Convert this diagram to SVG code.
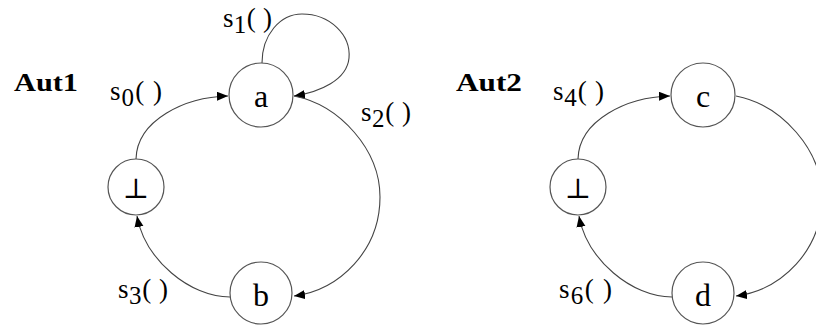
<svg xmlns="http://www.w3.org/2000/svg" width="816" height="329" viewBox="0 0 816 329">
<style>
.node{fill:#fff;stroke:#555;stroke-width:1.2}
.nl{font-family:'Liberation Serif','Times New Roman','DejaVu Serif',serif;font-size:32px;fill:#000;text-anchor:middle}
.bot{font-family:'DejaVu Serif','DejaVu Sans',serif;font-size:28px;fill:#000;text-anchor:middle}
.edge{fill:none;stroke:#444;stroke-width:1.1;marker-end:url(#arr)}
.lbl{font-family:'Liberation Serif','Times New Roman','DejaVu Serif',serif;font-size:27px;fill:#000}
.title{font-family:'Liberation Serif','Times New Roman','DejaVu Serif',serif;font-size:25px;font-weight:bold;fill:#000}
</style>
<defs>
<marker id="arr" markerUnits="userSpaceOnUse" markerWidth="12" markerHeight="10" refX="11" refY="4.5" orient="auto">
<path d="M0,0 L11,4.5 L0,9 z" fill="#000"/>
</marker>
</defs>
<rect width="816" height="329" fill="#fff"/>
<g id="connectors">
<path class="edge" d="M136,159 C137,120 185,97 228,96"/>
<path class="edge" d="M262,63 C262,35 280,14 302,14 C330,14 351,35 349,58 C347,80 320,92 294,96"/>
<path class="edge" d="M294,96 C340,105 380,150 380,197 C380,250 340,290 294,296"/>
<path class="edge" d="M230,297 C190,297 145,260 137,216"/>
<path class="edge" d="M578,159 C579,120 627,97 670,96"/>
<path class="edge" d="M736,96 C782,105 822,150 822,197 C822,250 782,290 736,296"/>
<path class="edge" d="M672,297 C632,297 587,260 579,216"/>
</g>
<g id="labels">
<text class="title" x="14" y="91" textLength="64" lengthAdjust="spacingAndGlyphs">Aut1</text>
<text class="title" x="456" y="91" textLength="66" lengthAdjust="spacingAndGlyphs">Aut2</text>
<text class="lbl" x="110" y="100" textLength="52" lengthAdjust="spacing">s<tspan dy="6" font-size="25">0</tspan><tspan dy="-6">( )</tspan></text>
<text class="lbl" x="223" y="27" textLength="49" lengthAdjust="spacing">s<tspan dy="6" font-size="25">1</tspan><tspan dy="-6">( )</tspan></text>
<text class="lbl" x="361" y="121" textLength="50" lengthAdjust="spacing">s<tspan dy="6" font-size="25">2</tspan><tspan dy="-6">( )</tspan></text>
<text class="lbl" x="118" y="298" textLength="50" lengthAdjust="spacing">s<tspan dy="6" font-size="25">3</tspan><tspan dy="-6">( )</tspan></text>
<text class="lbl" x="553" y="100" textLength="51" lengthAdjust="spacing">s<tspan dy="6" font-size="25">4</tspan><tspan dy="-6">( )</tspan></text>
<text class="lbl" x="559" y="298" textLength="53" lengthAdjust="spacing">s<tspan dy="6" font-size="25">6</tspan><tspan dy="-6">( )</tspan></text>
</g>
<g id="node-a"><circle class="node" cx="261" cy="95" r="32"/><text class="nl" x="261" y="107">a</text></g>
<g id="node-bot1"><circle class="node" cx="136" cy="187" r="28"/><text class="bot" x="136" y="198">⊥</text></g>
<g id="node-b"><circle class="node" cx="261" cy="293" r="31"/><text class="nl" x="261" y="306">b</text></g>
<g id="node-c"><circle class="node" cx="703" cy="95" r="32"/><text class="nl" x="703" y="107">c</text></g>
<g id="node-bot2"><circle class="node" cx="578" cy="187" r="28"/><text class="bot" x="578" y="198">⊥</text></g>
<g id="node-d"><circle class="node" cx="703" cy="293" r="31"/><text class="nl" x="703" y="306">d</text></g>
</svg>
